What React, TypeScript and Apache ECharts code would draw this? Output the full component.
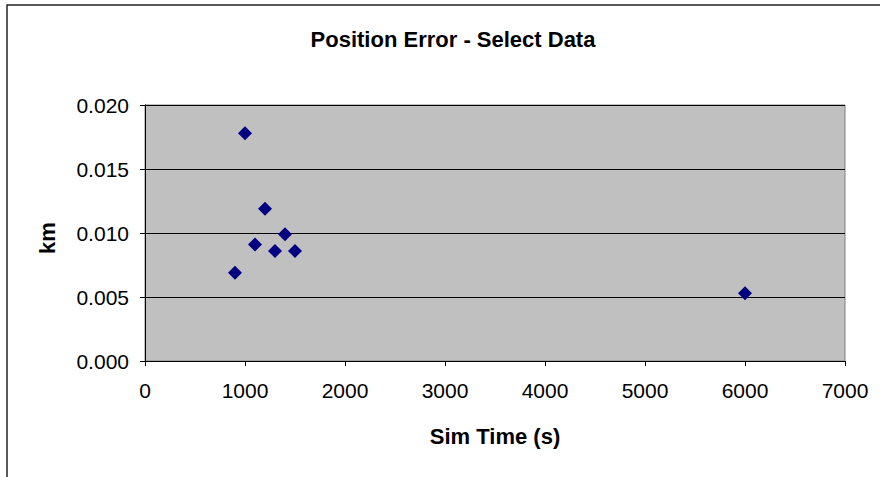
import React, { useEffect, useRef } from "react";
import * as echarts from "echarts";

const simTime = [900, 1000, 1100, 1200, 1300, 1400, 1500, 6000];
const posErrorKm = [0.0069, 0.0178, 0.0091, 0.0119, 0.0086, 0.0099, 0.0086, 0.0053];
const titleText = "Position Error - Select Data";
const xName = "Sim Time (s)";
const yName = "km";

export default function App() {
  const ref = useRef<HTMLDivElement>(null);
  useEffect(() => {
    if (!ref.current) return;
    const chart = echarts.init(ref.current, null, { renderer: "svg" });
    const font = "Arial, 'Liberation Sans', sans-serif";
    chart.setOption({
      animation: false,
      backgroundColor: "#ffffff",
      textStyle: { fontFamily: font },
      title: {
        text: titleText,
        left: 448,
        top: 23,
        textAlign: "center",
        textStyle: { fontFamily: font, fontSize: 22, fontWeight: "bold", color: "#000" },
      },
      graphic: [
        {
          type: "rect",
          shape: { x: 7, y: 5, width: 900, height: 500 },
          style: { fill: "none", stroke: "#222", lineWidth: 1.5 },
          silent: true,
          z: 100,
        },
        {
          type: "text",
          x: 47,
          y: 238,
          rotation: Math.PI / 2,
          style: {
            text: yName,
            fontFamily: font,
            fontSize: 22,
            fontWeight: "bold",
            fill: "#000",
            align: "center",
            verticalAlign: "middle",
          },
        },
        {
          type: "text",
          x: 495,
          y: 436,
          style: {
            text: xName,
            fontFamily: font,
            fontSize: 22,
            fontWeight: "bold",
            fill: "#000",
            align: "center",
            verticalAlign: "middle",
          },
        },
      ],
      grid: {
        left: 145,
        right: 35,
        top: 105,
        bottom: 116,
        show: true,
        backgroundColor: "#C0C0C0",
        borderColor: "#808080",
        borderWidth: 1,
      },
      xAxis: {
        type: "value",
        min: 0,
        max: 7000,
        interval: 1000,
        axisLine: { show: true, lineStyle: { color: "#000", width: 1 } },
        axisTick: { show: true, inside: false, length: 5, lineStyle: { color: "#000" } },
        axisLabel: {
          color: "#000",
          fontSize: 21,
          fontFamily: font,
          margin: 19,
          formatter: (v: number) => String(v),
        },
        splitLine: { show: false },
      },
      yAxis: {
        type: "value",
        min: 0,
        max: 0.02,
        interval: 0.005,
        axisLine: { show: true, lineStyle: { color: "#000", width: 1 } },
        axisTick: { show: true, inside: false, length: 5, lineStyle: { color: "#000" } },
        axisLabel: {
          color: "#000",
          fontSize: 21,
          fontFamily: font,
          margin: 16,
          formatter: (v: number) => v.toFixed(3),
        },
        splitLine: { show: true, lineStyle: { color: "#000", width: 1 } },
      },
      series: [
        {
          type: "scatter",
          symbol: "diamond",
          symbolSize: 14,
          itemStyle: { color: "#000080", opacity: 1 },
          data: simTime.map((t, i) => [t, posErrorKm[i]]),
        },
      ],
    });
    return () => chart.dispose();
  }, []);
  return (
    <div
      ref={ref}
      style={{ position: "fixed", left: 0, top: 0, width: 880, height: 477 }}
    />
  );
}
